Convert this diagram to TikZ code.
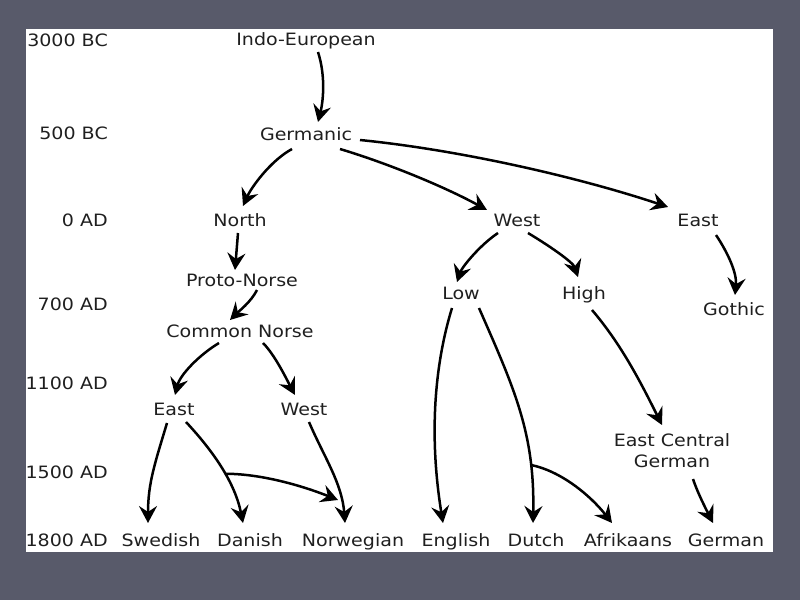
\documentclass[tikz,border=0pt]{standalone}
\usepackage{fontspec}
\setmainfont{DejaVu Sans}[FakeStretch=1.12]
\usetikzlibrary{arrows.meta,calc}
\definecolor{slide}{RGB}{88,90,106}
\begin{document}
\begin{tikzpicture}[x=1pt,y=-1pt,>={Stealth[length=17pt,width=18pt,inset=6pt]},
	lang/.style={anchor=base,inner sep=0pt,text=black!88,font=\fontsize{17}{21}\selectfont},
	year/.style={lang,anchor=base east},
	arr/.style={->,line width=2.5pt}]
	\useasboundingbox (0,0) rectangle (800,600);
	\fill[slide] (0,0) rectangle (800,600);
	\fill[white] (26,29) rectangle (773,552);
	% time axis
	\node[year] (y1) at (108,46) {3000 BC};
	\node[year] (y2) at (108,139) {500 BC};
	\node[year] (y3) at (108,226) {0 AD};
	\node[year] (y4) at (108,310) {700 AD};
	\node[year] (y5) at (108,389) {1100 AD};
	\node[year] (y6) at (108,478) {1500 AD};
	\node[year] (y7) at (108,546) {1800 AD};
	% languages
	\node[lang] (ie) at (306,45) {Indo-European};
	\node[lang] (germ) at (306,140) {Germanic};
	\node[lang] (north) at (240,226) {North};
	\node[lang] (west) at (517,226) {West};
	\node[lang] (east) at (698,226) {East};
	\node[lang] (pnorse) at (242,286) {Proto-Norse};
	\node[lang] (cnorse) at (240,337) {Common Norse};
	\node[lang] (low) at (461,299) {Low};
	\node[lang] (high) at (584,299) {High};
	\node[lang] (gothic) at (734,315) {Gothic};
	\node[lang] (neast) at (174,415) {East};
	\node[lang] (nwest) at (304,415) {West};
	\node[lang,anchor=center,align=center] (ecg) at (672,451) {East Central\\German};
	\node[lang] (swe) at (161,546) {Swedish};
	\node[lang] (dan) at (250,546) {Danish};
	\node[lang] (nor) at (353,546) {Norwegian};
	\node[lang] (eng) at (456,546) {English};
	\node[lang] (dut) at (536,546) {Dutch};
	\node[lang] (afr) at (628,546) {Afrikaans};
	\node[lang] (ger) at (726,546) {German};
	% descent
	\draw[arr] ($(ie.base)+(12,7)$) .. controls +(8,25) and +(5,-20) .. ($(germ.base)+(12,-18)$);
	\draw[arr] ($(germ.base)+(-14,9)$) .. controls +(-22,12) and +(8,-18) .. ($(north.base)+(3,-20)$);
	\draw[arr] ($(germ.base)+(34,9)$) .. controls +(50,15) and +(-40,-22) .. ($(west.base)+(-30,-16)$);
	\draw[arr] ($(germ.base)+(54,0)$) .. controls +(100,10) and +(-90,-30) .. ($(east.base)+(-30,-19)$);
	\draw[arr] ($(north.base)+(-2,7)$) -- ($(pnorse.base)+(-7,-16)$);
	\draw[arr] ($(pnorse.base)+(15,4)$) .. controls +(-6,12) and +(8,-8) .. ($(cnorse.base)+(-10,-17)$);
	\draw[arr] ($(cnorse.base)+(-21,6)$) .. controls +(-20,12) and +(5,-20) .. ($(neast.base)+(1,-20)$);
	\draw[arr] ($(cnorse.base)+(23,6)$) .. controls +(12,12) and +(-8,-15) .. ($(nwest.base)+(-9,-20)$);
	\draw[arr] ($(west.base)+(-19,7)$) .. controls +(-18,12) and +(5,-15) .. ($(low.base)+(-4,-17)$);
	\draw[arr] ($(west.base)+(11,7)$) .. controls +(20,12) and +(-5,-15) .. ($(high.base)+(-6,-22)$);
	\draw[arr] ($(east.base)+(18,9)$) .. controls +(12,18) and +(2,-22) .. ($(gothic.base)+(1,-20)$);
	\draw[arr] ($(high.base)+(8,11)$) .. controls +(30,35) and +(-20,-40) .. ($(ecg.center)+(-10,-26)$);
	\draw[arr] ($(ecg.center)+(21,28)$) .. controls +(5,15) and +(-6,-12) .. ($(ger.base)+(-13,-23)$);
	\draw[arr] ($(low.base)+(-9,9)$) .. controls +(-16,52) and +(-15,-93) .. ($(eng.base)+(-13,-23)$);
	\draw[arr] ($(low.base)+(18,9)$) .. controls +(35,80) and +(2,-90) .. ($(dut.base)+(-3,-23)$) coordinate[pos=0.76] (dbr);
	\draw[arr] (dbr) .. controls +(30,6) and +(-22,-28) .. ($(afr.base)+(-16,-23)$);
	\draw[arr] ($(neast.base)+(-7,8)$) .. controls +(-12,40) and +(0,-40) .. ($(swe.base)+(-13,-23)$);
	\draw[arr] ($(neast.base)+(12,7)$) .. controls +(28,30) and +(-8,-40) .. ($(dan.base)+(-7,-23)$) coordinate[pos=0.55] (nbr);
	\draw[arr] (nbr) .. controls +(40,0) and +(-30,-12) .. ($(nor.base)+(-15,-46)$);
	\draw[arr] ($(nwest.base)+(5,7)$) .. controls +(15,35) and +(-3,-40) .. ($(nor.base)+(-8,-23)$);
\end{tikzpicture}
\end{document}
